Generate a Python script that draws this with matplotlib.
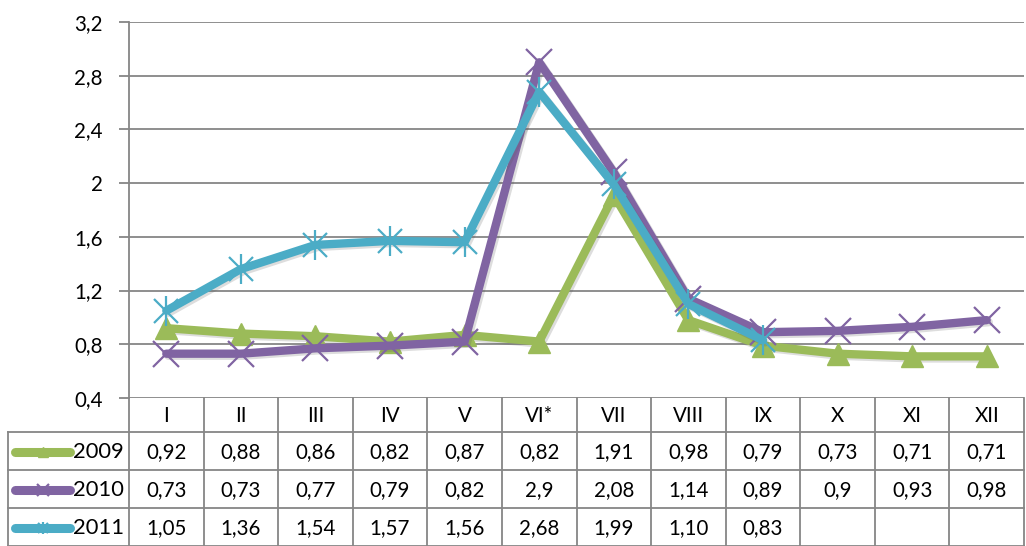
#!/usr/bin/env python3
"""Monthly index 2009-2011 line chart with data table underneath."""

import matplotlib.pyplot as plt
import matplotlib.patheffects as pe

months = ["I", "II", "III", "IV", "V", "VI*", "VII", "VIII", "IX", "X", "XI", "XII"]
vals_2009 = ["0,92", "0,88", "0,86", "0,82", "0,87", "0,82", "1,91", "0,98", "0,79", "0,73", "0,71", "0,71"]
vals_2010 = ["0,73", "0,73", "0,77", "0,79", "0,82", "2,9", "2,08", "1,14", "0,89", "0,9", "0,93", "0,98"]
vals_2011 = ["1,05", "1,36", "1,54", "1,57", "1,56", "2,68", "1,99", "1,10", "0,83"]
yticks = [0.4, 0.8, 1.2, 1.6, 2.0, 2.4, 2.8, 3.2]

GREEN = "#9BBB59"
PURPLE = "#8064A2"
CYAN = "#4BACC6"
GRID = "#868686"
FONT = ["Lato", "DejaVu Sans"]
FS = 14.8

plt.rcParams["font.family"] = FONT
plt.rcParams["font.size"] = FS

W, H = 1026, 546
PL, PR, PT, PB = 129, 1024, 22, 398      # plot box in pixels
ROWS = [398, 432, 470, 508, 546]          # table row edges
LABEL_X0 = 8


def to_num(s):
    return float(s.replace(",", "."))


series = [
    ("2009", vals_2009, GREEN, "tri"),
    ("2010", vals_2010, PURPLE, "x"),
    ("2011", vals_2011, CYAN, "star"),
]

fig = plt.figure(figsize=(W / 100, H / 100), dpi=100)
ax = fig.add_axes([PL / W, 1 - PB / H, (PR - PL) / W, (PB - PT) / H])
ax.set_xlim(0, len(months))
ax.set_ylim(yticks[0], yticks[-1])

for y in yticks:
    ax.axhline(y, color=GRID, lw=1.3, zorder=1)
ax.set_yticks(yticks)
ax.set_yticklabels([f"{y:g}".replace(".", ",") for y in yticks])
ax.tick_params(axis="y", length=7, width=1.3, color=GRID, pad=12, labelsize=FS)
ax.set_xticks([])
for side in ["top", "right", "bottom"]:
    ax.spines[side].set_visible(False)
ax.spines["left"].set_color(GRID)
ax.spines["left"].set_linewidth(1.3)

shadow = [pe.SimpleLineShadow(offset=(1.5, -1.5), alpha=0.2, shadow_color="#555555"), pe.Normal()]


def draw_markers(target, xs, ys, kind, color, scale=1.0, z=4):
    if kind == "tri":
        target.plot(xs, ys, ls="none", marker="^", ms=16 * scale, color=color, mec=color, zorder=z,
                    clip_on=False)
    elif kind == "x":
        target.plot(xs, ys, ls="none", marker="x", ms=19 * scale, mew=1.6, color=color, zorder=z,
                    clip_on=False)
    else:
        target.plot(xs, ys, ls="none", marker="x", ms=17 * scale, mew=1.6, color=color, zorder=z,
                    clip_on=False)
        target.plot(xs, ys, ls="none", marker="|", ms=21 * scale, mew=1.6, color=color, zorder=z,
                    clip_on=False)


for i, (name, vals, color, kind) in enumerate(series):
    xs = [k + 0.5 for k in range(len(vals))]
    ys = [to_num(v) for v in vals]
    ax.plot(xs, ys, color=color, lw=6, solid_capstyle="round", solid_joinstyle="round",
            zorder=3 + i, path_effects=shadow, clip_on=False)
    draw_markers(ax, xs, ys, kind, color, z=3 + i)

# data table below the plot, in pixel coordinates
tb = fig.add_axes([0, 0, 1, (H - ROWS[0]) / H])
tb.set_xlim(0, W)
tb.set_ylim(H, ROWS[0])
tb.axis("off")
col_w = (PR - PL) / len(months)
edges = [PL + k * col_w for k in range(len(months) + 1)]
lk = dict(color=GRID, lw=1.3, clip_on=False)

for x in edges:
    tb.plot([x, x], [ROWS[0], ROWS[-1]], **lk)
tb.plot([LABEL_X0, LABEL_X0], [ROWS[1], ROWS[-1]], **lk)
tb.plot([LABEL_X0, PR], [ROWS[1], ROWS[1]], **lk)
for r in ROWS[2:]:
    tb.plot([LABEL_X0, PR], [r, r], **lk)

for k, m in enumerate(months):
    tb.text((edges[k] + edges[k + 1]) / 2, (ROWS[0] + ROWS[1]) / 2 + 1, m,
            ha="center", va="center", fontsize=FS)

for i, (name, vals, color, kind) in enumerate(series):
    yc = (ROWS[i + 1] + ROWS[i + 2]) / 2 + 1
    tb.plot([15, 70], [yc, yc], color=color, lw=6.5, solid_capstyle="round")
    draw_markers(tb, [43], [yc], kind, color, scale=0.42)
    tb.text(73, yc, name, ha="left", va="center", fontsize=FS + 1)
    for k, v in enumerate(vals):
        tb.text((edges[k] + edges[k + 1]) / 2, yc, v, ha="center", va="center", fontsize=FS)

fig.savefig("out.png", dpi=100)
